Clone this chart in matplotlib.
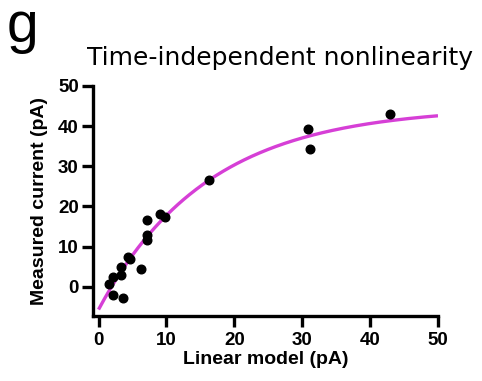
import numpy as np
from matplotlib import pyplot as plt

# Measured vs. linear-model current for each cell (pA)
linear_model = [1.6, 2.2, 3.3, 3.3, 2.2, 3.6, 4.4, 4.7, 6.2, 7.1, 7.1, 7.1,
                9.1, 9.8, 16.2, 30.9, 31.2, 42.9]
measured = [0.7, 2.5, 5.0, 2.9, -2.1, -2.7, 7.4, 6.9, 4.4, 16.5, 12.9, 11.7,
            18.0, 17.3, 26.5, 39.2, 34.4, 43.0]

# Saturating exponential fit: y = offset + amplitude * (1 - exp(-x / tau))
fit_offset = -5.7
fit_amplitude = 50.5
fit_tau = 16.0
fit_range = (0.0, 50.0)

x_ticks = [0, 10, 20, 30, 40, 50]
y_ticks = [0, 10, 20, 30, 40, 50]

LABEL_FONT = "Liberation Sans"


def saturating_fit(x):
    return fit_offset + fit_amplitude * (1 - np.exp(-x / fit_tau))


def plot_nonlinearity():
    fig = plt.figure(figsize=(4.82, 3.81), dpi=100)
    ax = fig.add_axes([0.1936, 0.1717, 0.9087 - 0.1936, 0.7743 - 0.1717])

    x_fit = np.linspace(fit_range[0], fit_range[1], 300)
    ax.plot(x_fit, saturating_fit(x_fit), color="#d63fd6", lw=2.4,
            solid_capstyle="butt", zorder=2)
    ax.plot(linear_model, measured, "o", color="black", ms=6.2, zorder=3)

    ax.set_xlim(-0.77, 50)
    ax.set_ylim(-7.2, 50)
    ax.set_xticks(x_ticks)
    ax.set_yticks(y_ticks)

    for side in ("top", "right"):
        ax.spines[side].set_visible(False)
    for side in ("left", "bottom"):
        ax.spines[side].set_linewidth(2.4)

    ax.tick_params(width=2.4, length=8)
    ax.tick_params(axis="x", pad=3.5)
    ax.tick_params(axis="y", pad=2.5)
    for label in ax.get_xticklabels() + ax.get_yticklabels():
        label.set_fontfamily(LABEL_FONT)
        label.set_fontweight("bold")
        label.set_fontsize(13.5)

    ax.set_xlabel("Linear model (pA)", fontsize=14, fontweight="bold",
                  family=LABEL_FONT, labelpad=1.5)
    ax.set_ylabel("Measured current (pA)", fontsize=14, fontweight="bold",
                  family=LABEL_FONT, labelpad=7)

    fig.text(87 / 482, 1 - 65 / 381, "Time-independent nonlinearity",
             ha="left", va="baseline", fontsize=18)
    # panel letter
    fig.text(7 / 482, 1 - 42 / 381, "g", ha="left", va="baseline",
             fontsize=41, family=LABEL_FONT)

    fig.savefig("out.png", dpi=100)


def main():
    plot_nonlinearity()


if __name__ == "__main__":
    main()
